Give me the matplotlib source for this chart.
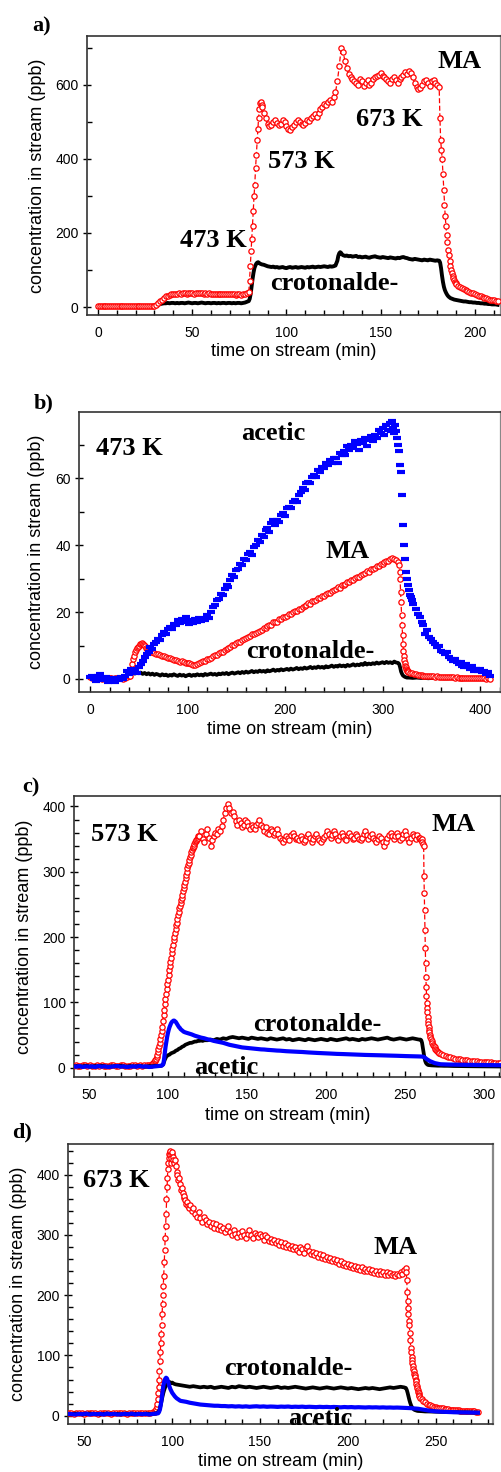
import numpy as np
import matplotlib
matplotlib.use("Agg")
import matplotlib.pyplot as plt
from matplotlib.ticker import MultipleLocator

plt.rcParams["font.family"] = ["Liberation Sans", "DejaVu Sans"]

# each series: list of (start time, time step)
# ---- panel a : temperature ramp 473 / 573 / 673 K
a_ma = [
    (0, 1.0, [2, 2, 3, 2, 2, 3, 2, 2, 2, 3, 2, 2, 3, 2, 2, 2, 3, 2, 2, 3, 2, 2, 2, 3, 2, 2, 3, 2, 2, 3,
              3, 6, 10, 15, 20, 25, 29, 31, 33, 34,
              35, 36, 36, 37, 36, 37, 37, 36, 37, 38, 37, 36, 37, 37, 38, 37, 36, 37, 36, 37,
              36, 36, 35, 36, 35, 36, 35, 34, 35, 34, 35, 34, 34, 33, 34, 34, 33, 34, 35, 38]),
    (80, 0.4, [40, 70, 110, 150, 185, 220, 260, 300, 330, 375, 410, 450, 480, 510, 535, 550, 555, 545]),
    (87, 1.0, [540, 525, 510, 495, 488, 492, 500, 505, 498, 492, 495, 505, 500, 488, 480, 478, 485, 492,
               500, 505, 500, 495, 492, 498, 505, 502, 510, 515, 520, 512, 525, 535, 540, 548, 545, 555,
               560, 555, 568, 580, 610, 650, 700, 690, 665, 645, 630, 620, 615, 610, 605, 600, 615, 610,
               598, 605, 612, 600, 605, 615, 620, 625, 628, 632, 625, 620, 615, 610, 605, 615, 620, 612,
               605, 615, 620, 628, 635, 630, 638, 632, 620, 605, 595, 588, 592, 600, 610, 612, 605, 598,
               610, 612, 605, 600]),
    (181, 0.4, [595, 510, 450, 425, 400, 360, 315, 275, 245, 220, 195, 175, 155, 140, 125, 112, 100,
                92, 85, 78, 72, 68, 64]),
    (190, 1.0, [62, 58, 55, 52, 49, 46, 43, 41, 39, 37, 35, 33, 31, 29, 27, 25, 23, 22, 20, 19, 18, 17, 16]),
]
a_croton = [
    (0, 1.0, [1, 1, 2, 1, 1, 2, 1, 1, 1, 2, 1, 1, 2, 1, 1, 1, 2, 1, 1, 2, 1, 1, 2, 1, 1, 2, 1, 1, 2, 1,
              2, 4, 6, 8, 9, 10, 10, 11, 10, 11,
              11, 10, 11, 10, 11, 11, 10, 11, 12, 11, 10, 11, 11, 10, 11, 12, 11, 10, 11, 11,
              10, 11, 11, 10, 11, 10, 11, 11, 10, 11, 11, 10, 11, 10, 11, 11, 10, 11, 12, 14]),
    (80, 0.5, [16, 22, 35, 55, 75, 92, 105, 112, 117, 120, 121, 119, 117]),
    (87, 1.0, [115, 114, 112, 110, 109, 108, 109, 107, 108, 106, 107, 108, 106, 105, 107, 108, 106, 107,
               108, 106, 107, 108, 107, 106, 108, 107, 108, 109, 107, 108, 109, 108, 109, 110, 109, 108,
               110, 109, 110, 112]),
    (127, 0.5, [125, 138, 145, 148, 146, 142, 140]),
    (131, 1.0, [138, 139, 137, 138, 136, 137, 138, 135, 136, 134, 135, 136, 134, 133, 135, 136, 137, 135,
                134, 133, 135, 134, 133, 132, 134, 133, 132, 131, 133, 132, 134, 135, 133, 132, 130, 129,
                128, 130, 129, 128, 127, 126, 128, 127, 126, 128, 127, 126, 125, 126]),
    (181, 0.5, [125, 120, 105, 85, 68, 55, 46, 40, 35, 31, 28, 26, 24]),
    (188, 1.0, [22, 20, 19, 18, 17, 16, 15, 15, 14, 13, 13, 12, 12, 11, 11, 10, 10, 9, 9, 8, 8, 7, 7, 7, 6]),
]

# ---- panel b : 473 K
b_acetic = [
    (0, 2.0, [0.5, 1, 0, -0.5, 0.8, 1.5, 0.2, -0.3, 0.5, -0.8, 0, -0.5, 0.3, -1, 0.2, -0.4, 0.6, 0, 0.8]),
    (38, 2.0, [2.5, 1.5, 3, 2, 2.8, 1.8, 3.5, 4.5, 5.5, 6.5, 7.5, 8.2, 9.5, 9, 10.5, 11, 12, 11.5, 13, 14,
               13.5, 15, 15.5, 14.8, 16.5, 16, 17.5, 16.8, 18, 17.2, 18.5, 17, 16.5, 17.5, 16.8, 17.8, 17,
               18.2, 17.3, 18, 17.5, 19, 18.2, 20, 21.5, 22, 23.5, 24, 25.5, 25, 27, 28, 27.5, 29.5, 31,
               30.5, 32.5, 33, 34.5, 34, 36, 35.5, 37.5, 38, 37.2, 39.5, 40, 41.5, 40.8, 43, 42.5, 44.5,
               45, 44, 46.5, 47.5, 46, 47.5, 47, 49, 49.5, 48.8, 51, 51.5, 51, 53, 53.5, 53, 55, 56, 57,
               56.5, 58.5, 59, 58.5, 60.5, 61, 60.5, 62.5, 62, 63.5, 63, 64.5, 64, 65.5, 64.5, 66, 66,
               64.5, 67.5, 66.8, 68, 67, 69.5, 68.5, 70, 69, 71, 70.2, 68.5, 71.5, 70.5, 72, 69.5, 71.5,
               72.5, 71, 73, 72, 74.5, 73.5, 75, 73, 76, 74.5, 76.5]),
    (309, 1.0, [74, 77, 75, 73.5, 76, 74, 72, 70, 68, 64, 62, 55, 46, 40, 36, 32, 30, 28, 26.5, 25, 24.5,
                23.5, 22.5]),
    (334, 2.0, [21, 19.5, 18.5, 17, 16, 13.5, 14.5, 12.5, 12, 11, 10.5, 9.5, 10, 8.5, 8, 7.5, 8, 6.5, 6,
                5.5, 6, 5, 4.5, 5, 4, 3.5, 4.5, 3.5, 3, 4, 2.5, 3, 2.5, 3, 2, 2.5, 1.5, 2, 1]),
]
b_ma = [
    (0, 2.0, [0.5, 0.3, 0.2, 0.4, 0.2, 0.3, 0.1, 0.3, 0.2, 0.4, 0.2, 0.3, 0.1, 0.2, 0.4, 0.3, 0.2, 0.1,
              0.3, 0.5, 0.8]),
    (41, 1.0, [1, 2.5, 4.5, 6, 7, 8, 8.8, 9.3, 9.7, 10, 10.3, 10.5, 10.6, 10.5, 10.2, 9.8, 9.3, 9, 8.7, 8.5]),
    (62, 2.0, [8.2, 8, 7.8, 7.5, 7.6, 7.2, 7, 6.8, 6.5, 6.4, 6.2, 6, 5.7, 5.8, 5.5, 5.2, 5.3, 5, 4.9, 4.7,
               4.8, 4.5, 4.3, 4.2, 4.4, 4.9, 5.0, 5.4, 5.5, 6.0, 6.1, 6.4, 6.8, 7.1, 7.2, 7.9, 8.0, 8.2,
               8.8, 8.9, 9.3, 9.6, 10.1, 10.2, 10.6, 11.1, 11.0, 11.7, 11.8, 12.2, 12.5, 12.8, 13.3, 13.5,
               13.7, 14.1, 14.4, 14.6, 15.2, 15.3, 15.7, 16.2, 16.1, 16.9, 17.1, 17.1, 17.8, 17.8, 18.4,
               18.5, 18.9, 19.4, 19.3, 20.0, 20.3, 20.3, 21.0, 20.9, 21.6, 21.7, 22.1, 22.6, 22.5, 23.2,
               23.3, 23.7, 24.2, 24.1, 24.8, 24.9, 25.3, 25.8, 25.7, 26.4, 26.5, 26.9, 27.4, 27.3, 28.0,
               28.1, 28.5, 29.0, 28.9, 29.6, 29.7, 30.1, 30.6, 30.5, 31.2, 31.3, 31.7, 32.2, 32.1, 32.8,
               32.9, 33.3, 33.8, 33.7, 34.4, 34.5, 34.9, 35.4, 35.3, 36.0, 36.1, 35.9, 35.7, 35.0]),
    (317, 0.5, [34, 32, 30, 26, 23, 19, 16, 13, 10.5, 8.5, 7, 5.8, 4.8, 4, 3.5, 3.1, 2.8, 2.5, 2.3, 2.1]),
    (328, 2.0, [1.9, 1.7, 1.5, 1.4, 1.3, 1.2, 1.1, 1.0, 1.0, 0.9, 0.9, 0.8, 0.8, 0.7, 0.8, 0.7, 0.6, 0.7,
                0.6, 0.5, 0.6, 0.5, 0.5, 0.4, 0.5, 0.4, 0.4, 0.3, 0.4, 0.3, 0.3, 0.4, 0.3, 0.2, 0.3, 0.2,
                0.3, 0.2, 0.2, 0.1, 0.2, 0.1]),
]
b_croton = [
    (0, 2.0, [0.3, 0.2, 0.4, 0.1, 0.3, 0.2, 0.4, 0.2, 0.1, 0.3, 0.2, 0.4, 0.2, 0.3, 0.1, 0.3, 0.2, 0.4, 0.3]),
    (38, 2.0, [0.5, 1.0, 1.4, 1.8, 1.6, 2.0, 1.7, 1.9, 1.5, 1.8, 1.4, 1.7, 1.3, 1.6, 1.2, 1.5, 1.3, 1.0,
               1.4, 1.1, 1.3, 0.9, 1.2, 1.0, 1.4, 1.1, 0.9, 1.3, 1.0, 1.2, 0.8, 1.1, 1.3, 0.9, 1.2, 1.0,
               1.4, 1.1, 1.3, 1.0, 1.5, 1.2, 1.4, 1.6, 1.3, 1.5, 1.2, 1.6, 1.4, 1.7, 1.5, 1.8, 1.4, 1.7,
               1.9, 1.6, 1.8, 2.0, 1.7, 2.1, 1.8, 2.2, 1.9, 2.1, 2.4, 2.0, 2.3, 2.1, 2.5, 2.2, 2.4, 2.1,
               2.6, 2.3, 2.5, 2.8, 2.4, 2.7, 2.5, 2.9, 2.6, 2.8, 3.0, 2.7, 3.1, 2.8, 3.0, 3.3, 2.9, 3.2,
               3.0, 3.4, 3.1, 3.3, 3.6, 3.2, 3.5, 3.3, 3.7, 3.4, 3.6, 3.3, 3.8, 3.5, 3.7, 4.0, 3.6, 3.9,
               3.7, 4.1, 3.8, 4.0, 3.7, 4.2, 3.9, 4.1, 4.4, 4.0, 4.3, 4.1, 4.5, 4.2, 4.8, 4.3, 4.6, 4.4,
               4.7, 4.5, 4.9, 4.6, 4.8, 5.0, 4.7, 5.1, 4.8, 5.0, 4.7, 5.2, 4.9, 4.8]),
    (317, 1.0, [4.5, 3.5, 2.2, 1.5, 1.0, 0.8, 0.6, 0.5, 0.4]),
    (327, 4.0, [0.4, 0.3, 0.4, 0.3, 0.3, 0.2, 0.3, 0.2, 0.3, 0.2, 0.2, 0.3, 0.2, 0.2, 0.1, 0.2, 0.2, 0.1,
                0.2, 0.1, 0.1, 0.1]),
]

# ---- panel c : 573 K
c_ma = [
    (40, 1.5, [3, 4, 3, 2.5, 3.5, 4, 3, 3.5, 2.5, 3, 4, 3, 3.5, 3, 2.5, 3, 4, 3.5, 3, 3, 4, 3.5, 3, 2.5,
               3, 3.5, 4, 3, 3.5, 3, 4, 3.5, 4, 4.5]),
    (90, 0.4, [5, 6, 7, 8, 10, 12, 14, 17, 20, 24, 28, 33, 38, 44, 50, 56, 63, 72, 80, 88, 97, 105, 113,
               120, 128, 135, 142, 150, 155, 162, 168, 175, 182, 188, 195, 200, 206, 212, 218, 222, 228,
               234, 238, 244, 248, 252, 256, 260, 265, 270, 275, 280, 284, 290, 295, 300, 305, 310, 314,
               318, 322, 326, 330, 333, 336, 338, 340, 343, 345, 347, 348, 350, 352, 354, 355]),
    (120, 1.0, [355, 362, 350, 345, 358, 365, 352, 340, 348, 355, 360, 358, 366, 362, 370, 380, 390, 398,
                404, 398, 390, 392, 385, 378, 372, 380, 375, 368, 372, 380, 376, 370, 365, 372, 368, 365,
                372, 375, 380, 372, 368, 362, 368, 360, 358, 365, 362, 356, 360, 365, 358, 352, 348, 345,
                350, 355, 352, 348, 356, 360, 354, 350, 352, 348, 355, 350, 345, 348, 355, 358, 352, 346,
                350, 355, 358, 352, 348, 345, 350, 353, 357, 362, 358, 352, 356, 362, 358, 352, 348, 355,
                360, 355, 350, 348, 356, 360, 355, 350, 352, 358, 355, 350, 348, 352, 358, 362, 356, 350,
                354, 358, 352, 348, 345, 350, 355, 352, 345, 340, 346, 352, 356, 360, 355, 350, 354, 360,
                355, 348, 352, 358, 362, 356, 350, 346, 352, 358, 355, 350, 356, 352]),
    (260, 0.4, [352, 348, 350, 345, 342]),
    (262, 0.2, [340, 293, 267, 242, 211, 183, 160, 139, 124, 109, 99, 92, 85, 78, 72, 67, 62, 58, 54, 50, 47]),
    (266.5, 0.5, [44, 41, 38, 35, 33, 31, 29, 27, 25.5, 24, 23, 22]),
    (273, 1.5, [21, 19.5, 18, 17, 16, 15, 14, 13.5, 13, 12, 11.5, 11, 10.5, 10, 10, 9.5, 9, 9, 8.5, 8.5,
                8, 8, 7.5, 7.5, 7, 7]),
]
c_croton = [
    (40, 2.0, [2, 2.5, 1.5, 2, 3, 2, 1.5, 2.5, 2, 3, 2, 1.5, 2, 2.5, 2, 3, 2, 1.5, 2.5, 2, 2, 3, 2, 1.5,
               2.5, 2, 3, 2.5, 3]),
    (97, 1.0, [5, 12, 17, 19, 20, 22, 23, 24, 26, 27, 29, 30, 32, 33, 35, 36, 37, 38, 38, 39, 40, 40, 41,
               41, 42, 41, 42, 42]),
    (125, 2.0, [42, 43, 42, 44, 43, 45, 44, 46, 47, 46, 45, 46, 45, 44, 46, 45, 44, 45, 44, 43, 45, 44, 43,
                44, 45, 43, 44, 42, 43, 44, 43, 42, 44, 43, 42, 43, 44, 43, 42, 44, 43, 42, 43, 44, 45, 43,
                44, 43, 42, 44, 43, 44, 45, 44, 43, 44, 45, 46, 44, 43, 44, 45, 44, 43, 44, 45, 44, 43]),
    (260, 0.5, [43, 42, 38, 30, 22, 15, 10, 7, 5.5, 4.5, 4]),
    (267, 2.0, [3.5, 3.2, 3, 3, 2.8, 2.8, 2.6, 2.5, 2.5, 2.4, 2.3, 2.3, 2.2, 2.2, 2.1, 2, 2, 2, 1.9, 1.9,
                1.8, 1.8, 1.8]),
]
c_acetic = [
    (40, 2.0, [2, 1.5, 2.5, 1, 2, 1.5, 2, 1, 2.5, 1.5, 2, 1, 1.5, 2, 2.5, 1.5, 2, 1, 1.5, 2, 1.5, 2.5, 1.5,
               2, 1, 1.5, 2, 2.5, 3]),
    (97, 0.5, [5, 12, 22, 32, 40, 47, 53, 58, 62, 65, 68, 70, 71, 72, 72, 71, 70, 68, 66, 64, 62, 61, 59,
               58, 57, 56, 55]),
    (111, 2.0, [54, 52.5, 51, 49, 47.5, 46, 45, 43.5, 42.5, 41, 40, 39, 38, 36.5, 35, 34, 33, 32, 31, 30.5,
                30, 29.5, 29, 28.5, 28, 27.8, 27.3, 27, 26.6, 26.2, 26, 25.6, 25.2, 25, 24.7, 24.4, 24.2,
                24, 23.6, 23.3, 23, 22.8, 22.5, 22.3, 22, 21.8, 21.6, 21.3, 21.1, 21, 20.8, 20.6, 20.4,
                20.2, 20, 19.9, 19.7, 19.5, 19.4, 19.3, 19.2, 19, 18.9, 18.7, 18.6, 18.5, 18.3, 18.2, 18,
                17.9, 17.7, 17.6, 17.5, 17.4, 17.2]),
    (261, 1.0, [17, 16.5, 15, 13, 11.5, 10, 9, 8, 7, 6.5, 6, 5.5, 5.2]),
    (275, 3.0, [5, 4.8, 4.6, 4.5, 4.4, 4.3, 4.2, 4.1, 4, 4, 3.9, 3.8, 3.8]),
]

# ---- panel d : 673 K
d_ma = [
    (41, 1.5, [4, 5, 3.5, 4.5, 5, 4, 3.5, 4.5, 5, 4, 4.5, 3.5, 4, 5, 4.5, 4, 3.5, 4.5, 5, 4, 4.5, 4, 3.5,
               4.5, 5, 4, 4.5, 4, 5, 4.5, 4, 5, 5.5]),
    (90, 0.25, [6, 7, 8, 9, 11, 14, 20, 28, 38, 48, 60, 75, 90, 105, 120, 135, 150, 168, 185, 200, 215, 232,
                255, 275, 295, 315, 335, 360, 380, 395, 410, 420, 428, 435, 438, 440, 432, 420, 428, 435,
                438, 430, 425]),
    (101, 0.5, [420, 425, 415, 405, 400, 392, 395, 385, 375, 378, 370, 362, 365, 358, 352, 355, 348, 345, 350]),
    (111, 1.0, [340, 345, 335, 330, 338, 328, 322, 330, 325, 318, 322, 315, 320, 312, 318, 310, 315, 308,
                312, 305, 310, 315, 305, 300, 308, 302, 296, 304, 298, 306, 300, 295, 302, 308, 300, 295,
                304, 300, 296, 302, 298, 292, 300, 296, 290, 294, 288, 292, 286, 290, 284, 288, 282, 286,
                280, 284, 278, 282, 276, 280, 275, 272, 280, 276, 270, 278, 282, 274, 268, 272, 266, 270,
                264, 268, 262, 266, 260, 264, 258, 262, 256, 260, 255, 258, 252, 256, 250, 254, 248, 252,
                246, 250, 245, 248, 243, 247, 242, 246, 240, 244, 240, 243, 238, 242, 237, 241, 236, 240,
                235, 239, 234, 238, 233, 237, 233, 236, 232, 236, 234, 238, 235, 242]),
    (233, 0.25, [245, 238, 225, 205, 190, 178, 168, 158, 150, 138, 125, 113, 105, 98, 92, 87, 82, 78, 74,
                 70, 67, 64, 60, 57, 53, 50, 46, 43, 40, 37, 34, 32, 30]),
    (242, 1.0, [27, 24, 22, 20, 18.5, 17, 16, 15, 14, 13.5, 13, 12.5, 12, 11.5, 11, 10.5, 10, 10, 9.5, 9.5,
                9, 9, 8.5, 8.5, 8, 8, 7.5, 7.5, 7, 7, 7, 6.5, 6.5]),
]
d_croton = [
    (41, 2.0, [3, 2.5, 3.5, 3, 2, 3, 3.5, 2.5, 3, 2, 3, 3.5, 2.5, 3, 3, 2, 3.5, 3, 2.5, 3, 3, 2.5, 3.5, 3,
               3, 4]),
    (92, 0.5, [5, 8, 12, 18, 25, 32, 38, 43, 47, 50, 53, 55, 56, 56, 55, 54, 55, 54, 53]),
    (102, 2.0, [52, 51, 50, 49, 48, 49, 48, 47, 48, 47, 48, 46, 47, 48, 47, 46, 48, 47, 49, 48, 47, 48, 47,
                46, 47, 48, 47, 46, 47, 48, 46, 47, 46, 47, 48, 47, 46, 45, 46, 47, 46, 45, 46, 47, 46, 45,
                46, 47, 46, 45, 46, 45, 44, 45, 46, 45, 46, 45, 44, 45, 46, 47, 46, 47, 48, 47]),
    (233, 0.5, [46, 43, 38, 32, 26, 21, 17, 14, 12, 10.5, 9.5, 9, 8.5, 8, 7.8]),
    (242, 2.0, [7.5, 7, 7, 6.8, 6.5, 6.5, 6.2, 6, 6, 5.8, 5.8, 5.5, 5.5, 5.5, 5.3, 5.2, 5]),
]
d_acetic = [
    (41, 2.0, [3, 2.5, 2, 3, 2.5, 3.5, 2, 3, 2.5, 3, 2, 3.5, 2.5, 3, 2, 2.5, 3, 2.5, 3.5, 2, 3, 2.5, 3, 2,
               3, 3.5]),
    (92, 0.5, [4, 6, 10, 18, 28, 40, 50, 57, 61, 63, 62, 58, 53, 48, 44, 41, 38, 36, 34, 32, 30.5, 29, 28,
               27, 26, 25, 24.5]),
    (106, 2.0, [24, 23, 21.5, 20.5, 19.5, 18.5, 18, 17.5, 17, 16.5, 16.5, 16, 16, 15.5, 15.8, 15.2, 15.6,
                15, 15.5, 14.8, 15.3, 15.6, 15, 15.4, 14.8, 15.2, 15, 14.6, 15.1, 14.8, 15.2, 14.5, 14.9,
                14.6, 15, 14.4, 14.8, 14.5, 14.2, 14.7, 14.3, 14.6, 14.1, 14.5, 14.2, 13.9, 14.4, 14, 14.3,
                13.8, 14.1, 13.9, 13.6, 14, 13.7, 13.9, 13.5, 13.8, 13.4, 13.6, 13.3, 13.5, 13.2, 13, 12.8,
                12.5, 12, 11.5]),
    (242, 2.0, [10.5, 9.5, 8.5, 7.8, 7.2, 6.8, 6.5, 6.2, 6, 5.8, 5.6, 5.5, 5.4, 5.3, 5.2, 5.1, 5]),
]


def build(segs):
    t, v = [], []
    for t0, dt, vals in segs:
        t.extend(t0 + dt * np.arange(len(vals)))
        v.extend(vals)
    return np.array(t), np.array(v)


W, H = 501, 1472
fig = plt.figure(figsize=(W / 100, H / 100), dpi=100)


def px_axes(left, top, right, bottom):
    return fig.add_axes([left / W, 1 - bottom / H, (right - left) / W, (bottom - top) / H])


def style(ax, xmaj, xmin, ymaj, ymin, ylab_px, xlab_px):
    for s in ["left", "bottom", "top"]:
        ax.spines[s].set_color("#333333")
        ax.spines[s].set_linewidth(1.2)
    ax.spines["right"].set_color("#888888")
    ax.spines["right"].set_linewidth(1.6)
    ax.xaxis.set_major_locator(MultipleLocator(xmaj))
    ax.xaxis.set_minor_locator(MultipleLocator(xmin))
    ax.yaxis.set_major_locator(MultipleLocator(ymaj))
    ax.yaxis.set_minor_locator(MultipleLocator(ymin))
    ax.tick_params(axis="x", which="major", direction="in", length=4, width=1, pad=8, labelsize=10)
    ax.tick_params(axis="x", which="minor", direction="in", length=3.5, width=1)
    ax.tick_params(axis="y", which="major", direction="inout", length=6, width=1, pad=3, labelsize=10)
    ax.tick_params(axis="y", which="minor", direction="in", length=3.5, width=1)
    ax.set_xlabel("time on stream (min)", fontsize=13, va="center")
    ax.set_ylabel("concentration in stream (ppb)", fontsize=13, va="center")
    bb = ax.get_position()
    ax.xaxis.set_label_coords(0.5, -xlab_px / (bb.height * H))
    ax.yaxis.set_label_coords(-ylab_px / (bb.width * W), 0.5)


def plot_ma(ax, segs):
    t, v = build(segs)
    ax.plot(t, v, color="red", lw=0.9, ls=(0, (4, 2)), marker="o", ms=3.8,
            mfc="white", mec="red", mew=0.9, zorder=3)


def plot_line(ax, segs, color, z, lw=2.7):
    t, v = build(segs)
    ax.plot(t, v, color=color, lw=lw, zorder=z)


def label(x, y, s, size=19):
    fig.text(x / W, 1 - y / H, s, fontsize=size, fontweight="bold",
             family=["Liberation Serif", "DejaVu Serif"], ha="left", va="baseline")


# panel a
ax = px_axes(87, 36, 501, 315)
plot_line(ax, a_croton, "black", 2, 2.8)
plot_ma(ax, a_ma)
ax.set_xlim(-5.8, 213.8)
ax.set_ylim(-21.6, 732)
style(ax, 50, 10, 200, 100, 49, 37)

# panel b
ax = px_axes(79, 412, 501, 692)
plot_line(ax, b_croton, "black", 2)
plot_ma(ax, b_ma)
t, v = build(b_acetic)
ax.plot(t, v, ls="none", marker="_", ms=5.5, mew=3.0, color="blue", zorder=4)
ax.set_xlim(-11.3, 421.5)
ax.set_ylim(-3.9, 79.8)
style(ax, 100, 20, 20, 10, 42, 38)

# panel c
ax = px_axes(74, 796, 501, 1077)
plot_ma(ax, c_ma)
plot_line(ax, c_croton, "black", 4)
plot_line(ax, c_acetic, "blue", 5, 3.0)
ax.set_xlim(40.5, 311)
ax.set_ylim(-14.3, 416)
style(ax, 50, 10, 100, 20, 49, 38)

# panel d
ax = px_axes(68, 1144, 493, 1424)
plot_ma(ax, d_ma)
plot_line(ax, d_croton, "black", 4)
plot_line(ax, d_acetic, "blue", 5, 3.0)
ax.set_xlim(40.7, 282.6)
ax.set_ylim(-13.8, 451)
style(ax, 50, 10, 100, 20, 49, 38)

# annotations
label(32, 31, "a)", 16)
label(438, 68, "MA")
label(356, 126, "673 K")
label(268, 168, "573 K")
label(180, 247, "473 K")
label(270, 290, "crotonalde-")

label(34, 408, "b)", 16)
label(96, 455, "473 K")
label(241, 440, "acetic")
label(325, 558, "MA")
label(246, 658, "crotonalde-")

label(22, 792, "c)", 16)
label(91, 841, "573 K")
label(432, 831, "MA")
label(253, 1031, "crotonalde-")
label(194, 1074, "acetic")

label(12, 1137, "d)", 16)
label(83, 1187, "673 K")
label(373, 1254, "MA")
label(224, 1375, "crotonalde-")
label(288, 1425, "acetic")

fig.savefig("out.png", dpi=100)
